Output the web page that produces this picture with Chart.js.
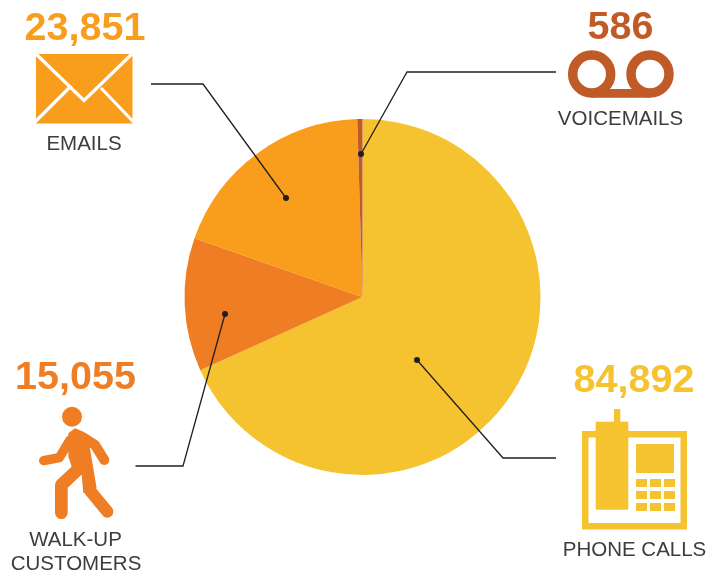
<!DOCTYPE html>
<html>
<head>
<meta charset="utf-8">
<style>html,body{margin:0;padding:0;background:#fff}canvas{display:block}</style>
<script src="https://cdn.jsdelivr.net/npm/chart.js@4"></script>
</head>
<body>
<canvas id="c" width="722" height="574"></canvas>
<script>
const categories = ["PHONE CALLS", "WALK-UP CUSTOMERS", "EMAILS", "VOICEMAILS"];
const values = [84892, 15055, 23851, 586];
const colors = ["#F5C330", "#EE7D23", "#F99D1C", "#C05A27"];

const INK = "#3d3d3f", LEADER = "#231f20";
const callouts = [
  {i:0, vx:634, vy:392, lines:[["PHONE CALLS",634.5,556]], path:[[556,458],[503,458],[417,360]]},
  {i:1, vx:75.5, vy:388.5, lines:[["WALK-UP",75.5,546],["CUSTOMERS",76,570]], path:[[135.5,466],[183,466],[225,314]]},
  {i:2, vx:85, vy:40, lines:[["EMAILS",84,150]], path:[[151,84],[203,84],[286,198]]},
  {i:3, vx:620.5, vy:38.5, lines:[["VOICEMAILS",620.5,125]], path:[[556,72],[407,72],[361,154]]}
];

function phone(g){
  g.fillStyle = colors[0];
  g.fillRect(582,431,105,98.5);
  g.fillStyle = "#fff";
  g.fillRect(588.5,437.5,92,85.5);
  g.fillStyle = colors[0];
  g.fillRect(595.7,421.7,32.6,88);
  g.fillRect(614,409,6.3,13);
  g.fillRect(636,444,38,29);
  [636,650,664].forEach(x=>[479,491,503].forEach(y=>g.fillRect(x,y,11,8)));
}
function walker(g){
  const s=(pts,w)=>{g.lineWidth=w/3;g.beginPath();pts.forEach((p,k)=>{const x=p[0]/3,y=350+p[1]/3;k?g.lineTo(x,y):g.moveTo(x,y)});g.stroke()};
  g.fillStyle=g.strokeStyle=colors[1];g.lineCap="round";g.lineJoin="round";
  g.beginPath();g.arc(72,416.7,10,0,Math.PI*2);g.fill();
  g.beginPath();
  [[205,250],[225,235],[250,245],[268,285],[290,415],[250,430],[245,375],[215,350],[205,320]].forEach((p,k)=>{const x=p[0]/3,y=350+p[1]/3;k?g.lineTo(x,y):g.moveTo(x,y)});
  g.closePath();g.fill();
  s([[210,270],[178,323],[131,332]],28);
  s([[250,262],[285,285],[313,330]],30);
  s([[230,362],[184,405],[184,488]],38);
  s([[270,422],[322,485]],36);
  g.lineCap="butt";
}
function envelope(g){
  g.fillStyle=colors[2];g.fillRect(36,54,96.5,69.5);
  g.strokeStyle="#fff";g.lineWidth=3.2;g.lineCap="butt";g.lineJoin="miter";
  g.beginPath();g.moveTo(35,53);g.lineTo(84,100.5);g.lineTo(133,53);g.stroke();
  g.beginPath();g.moveTo(34,123);g.lineTo(69,88);g.moveTo(134.5,123);g.lineTo(101,88);g.stroke();
}
function tape(g){
  g.strokeStyle=colors[3];g.lineWidth=9.5;
  g.beginPath();g.arc(591.7,74,19,0,Math.PI*2);g.stroke();
  g.beginPath();g.arc(650,74,19,0,Math.PI*2);g.stroke();
  g.lineWidth=8.6;g.beginPath();g.moveTo(591.7,93.4);g.lineTo(650,93.4);g.stroke();
}

const overlay = {
  id:"overlay",
  afterDraw(chart){
    const g=chart.ctx;g.save();
    phone(g);walker(g);envelope(g);tape(g);
    g.textAlign="center";g.textBaseline="alphabetic";
    callouts.forEach(c=>{
      g.fillStyle=colors[c.i];g.font='bold 39.5px "Liberation Sans"';
      g.fillText(values[c.i].toLocaleString("en-US"),c.vx,c.vy);
      g.fillStyle=INK;g.font='20.5px "Liberation Sans"';
      c.lines.forEach(l=>g.fillText(l[0],l[1],l[2]));
      g.strokeStyle=LEADER;g.lineWidth=1.3;g.lineJoin="miter";
      g.beginPath();c.path.forEach((p,k)=>k?g.lineTo(p[0],p[1]):g.moveTo(p[0],p[1]));g.stroke();
      const e=c.path[c.path.length-1];
      g.fillStyle=LEADER;g.beginPath();g.arc(e[0],e[1],3,0,Math.PI*2);g.fill();
    });
    g.restore();
  }
};

new Chart(document.getElementById("c"),{
  type:"pie",
  data:{labels:categories,datasets:[{data:values,backgroundColor:colors,borderWidth:0,hoverOffset:0}]},
  options:{
    responsive:false,animation:false,rotation:0,
    layout:{padding:{left:184,right:181,top:119,bottom:99}},
    plugins:{legend:{display:false},tooltip:{enabled:false},title:{display:false}}
  },
  plugins:[overlay]
});
</script>
</body>
</html>
